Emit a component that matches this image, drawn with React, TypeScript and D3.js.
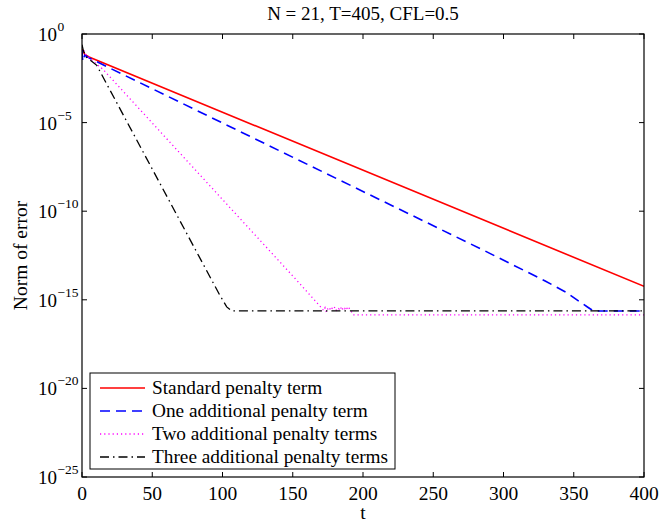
import React from "react";
import * as d3 from "d3";

const title = "N = 21, T=405, CFL=0.5";
const xLabel = "t";
const yLabel = "Norm of error";
const xTicks = [0, 50, 100, 150, 200, 250, 300, 350, 400];
const yTickExps = [0, -5, -10, -15, -20, -25];

// values as log10 of the error norm
const redT = [0, 2, 5, 400];
const redLog = [-0.85, -1.15, -1.3, -14.24];

const blueT = [0, 0.5, 2, 5, 287, 330, 345, 350, 355, 360, 364, 400];
const blueLog = [-0.9, -1.55, -1.2, -1.35, -12.25, -13.95, -14.6, -14.88, -15.15, -15.42, -15.63, -15.63];

const magT = [0, 3, 15, 59, 154, 171, 172, 173, 174, 175, 176, 177, 178, 179, 180, 181, 182, 183, 184, 185, 186, 187, 188, 189, 190, 191, 192, 193, 400];
const magLog = [-0.7, -1.2, -2.0, -5.8, -14.0, -15.5, -15.62, -15.45, -15.7, -15.5, -15.42, -15.6, -15.48, -15.55, -15.4, -15.58, -15.45, -15.52, -15.4, -15.6, -15.42, -15.5, -15.38, -15.55, -15.45, -15.6, -15.7, -15.85, -15.85];

const blackT = [0, 1, 3, 10.5, 37.7, 98, 103, 106.7, 400];
const blackLog = [-0.6, -0.95, -1.3, -1.77, -5.8, -14.73, -15.4, -15.63, -15.63];

const seriesNames = [
  "Standard penalty term",
  "One additional penalty term",
  "Two additional penalty terms",
  "Three additional penalty terms",
];

const W = 660, H = 525;
const L = 82, R = 644, T = 34, B = 477;
const FONT = "'Liberation Serif', 'Times New Roman', serif";

export default function App() {
  const x = d3.scaleLinear().domain([0, 400]).range([L, R]);
  const y = d3.scaleLog().domain([1e-25, 1]).range([B, T]);

  const mk = (ts: number[], ls: number[]) =>
    d3.line<number>().x((_, i) => x(ts[i])).y((_, i) => y(Math.pow(10, ls[i])))(ls) || "";

  const series = [
    { d: mk(redT, redLog), color: "#ff0000", dash: undefined as string | undefined, w: 1.6 },
    { d: mk(blueT, blueLog), color: "#0000ff", dash: "10,6", w: 1.6 },
    { d: mk(magT, magLog), color: "#ff00ff", dash: "1.2,3", w: 1.3 },
    { d: mk(blackT, blackLog), color: "#000000", dash: "9,4,1.5,4", w: 1.3 },
  ];

  const tl = 5;
  const legX = 90, legY = 373, legW = 305, legH = 96;
  const rowY = [388, 411, 434, 457];

  return (
    <svg width={W} height={H} style={{ position: "absolute", left: 0, top: 0, background: "#fff" }} fontFamily={FONT}>
      <rect x={0} y={0} width={W} height={H} fill="#fff" />
      <defs>
        <clipPath id="pc"><rect x={L} y={T} width={R - L} height={B - T} /></clipPath>
      </defs>
      <g clipPath="url(#pc)">
        {series.map((s, i) => (
          <path key={i} d={s.d} fill="none" stroke={s.color} strokeWidth={s.w} strokeDasharray={s.dash} />
        ))}
      </g>
      {/* box */}
      <rect x={L} y={T} width={R - L} height={B - T} fill="none" stroke="#000" strokeWidth={1.2} />
      {/* x ticks */}
      {xTicks.map((v) => (
        <g key={"x" + v}>
          <line x1={x(v)} x2={x(v)} y1={B} y2={B - tl} stroke="#000" />
          <line x1={x(v)} x2={x(v)} y1={T} y2={T + tl} stroke="#000" />
          <text x={x(v)} y={500} textAnchor="middle" fontSize={19.5}>{v}</text>
        </g>
      ))}
      {/* y ticks */}
      {yTickExps.map((e) => {
        const yy = y(Math.pow(10, e));
        return (
          <g key={"y" + e}>
            <line x1={L} x2={L + tl} y1={yy} y2={yy} stroke="#000" />
            <line x1={R} x2={R - tl} y1={yy} y2={yy} stroke="#000" />
            <text x={57} y={yy + 7} textAnchor="end" fontSize={19}>10</text>
            <text x={57.5} y={yy - 3} textAnchor="start" fontSize={13.5}>{e === 0 ? "0" : "\u2212" + Math.abs(e)}</text>
          </g>
        );
      })}
      <text x={(L + R) / 2} y={19.5} textAnchor="middle" fontSize={19}>{title}</text>
      <text x={(L + R) / 2} y={519} textAnchor="middle" fontSize={19.5}>{xLabel}</text>
      <text transform={`translate(27,${(T + B) / 2}) rotate(-90)`} textAnchor="middle" fontSize={19.5}>{yLabel}</text>
      {/* legend */}
      <rect x={legX} y={legY} width={legW} height={legH} fill="#fff" stroke="#000" strokeWidth={1} />
      {series.map((s, i) => (
        <g key={"l" + i}>
          <line x1={100} x2={145} y1={rowY[i]} y2={rowY[i]} stroke={s.color} strokeWidth={s.w} strokeDasharray={s.dash} />
          <text x={152} y={rowY[i] + 6} fontSize={19.3}>{seriesNames[i]}</text>
        </g>
      ))}
    </svg>
  );
}
